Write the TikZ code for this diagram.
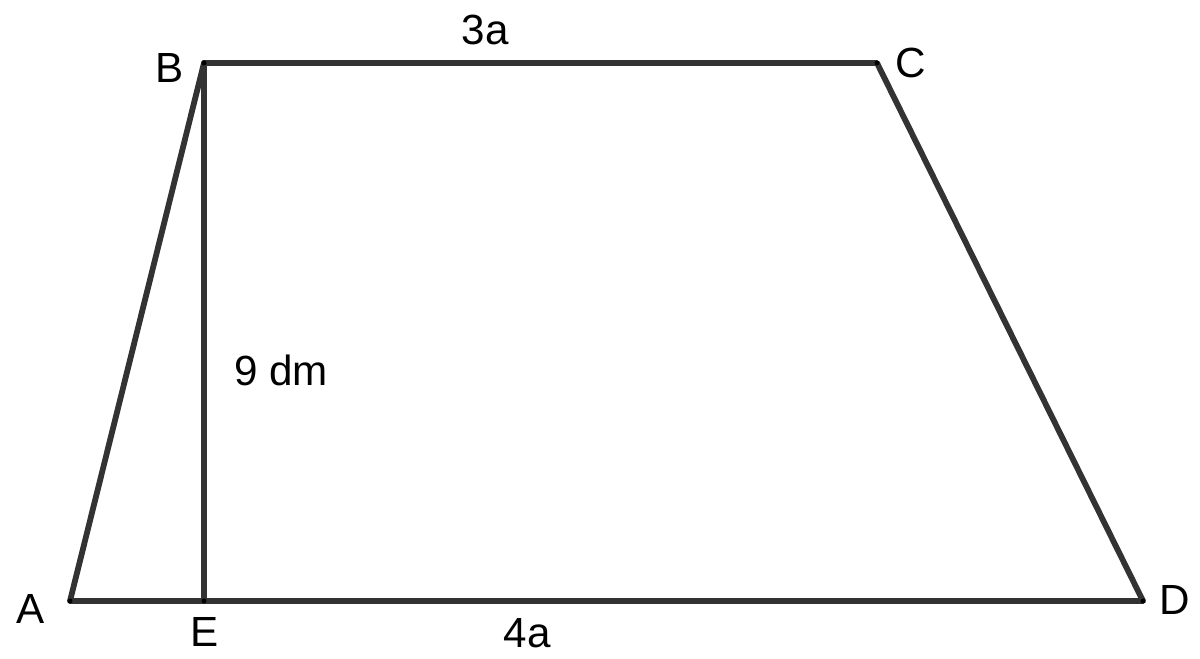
\documentclass[tikz,border=0pt]{standalone}
\usepackage{fontspec}
\setmainfont{Liberation Sans}
\definecolor{lado}{HTML}{333333}
\tikzset{
  lado/.style={line width=3.3pt,draw=lado,line cap=round,line join=round},
  rotulo/.style={font=\fontsize{24}{27}\selectfont,text=black,inner sep=0pt}
}
\begin{document}
\begin{tikzpicture}
    \useasboundingbox (0,0) rectangle (24,13.16);
    % vertices del trapecio
    \coordinate (A) at (1.40,1.14);
    \coordinate (B) at (4.08,11.90);
    \coordinate (C) at (17.54,11.90);
    \coordinate (D) at (22.86,1.14);
    \coordinate (E) at (4.08,1.14);
    % lados
    \draw[lado] (A) -- (B) -- (C) -- (D) -- cycle;
    % altura BE
    \draw[lado] (B) -- (E);
    \foreach \p in {A,B,C,D,E}
    \fill[black] (\p) circle [radius=0.05];
    % rotulos
    \node[rotulo] (lA) at (0.62,0.99) {A};
    \node[rotulo] (lB) at (3.40,11.80) {B};
    \node[rotulo] (lC) at (18.22,11.90) {C};
    \node[rotulo] (lD) at (23.50,1.16) {D};
    \node[rotulo] (lE) at (4.10,0.52) {E};
    \node[rotulo] (lsup) at (9.70,12.56) {3a};
    \node[rotulo] (linf) at (10.54,0.50) {4a};
    \node[rotulo] (lalt) at (5.62,5.76) {9 dm};
\end{tikzpicture}
\end{document}
